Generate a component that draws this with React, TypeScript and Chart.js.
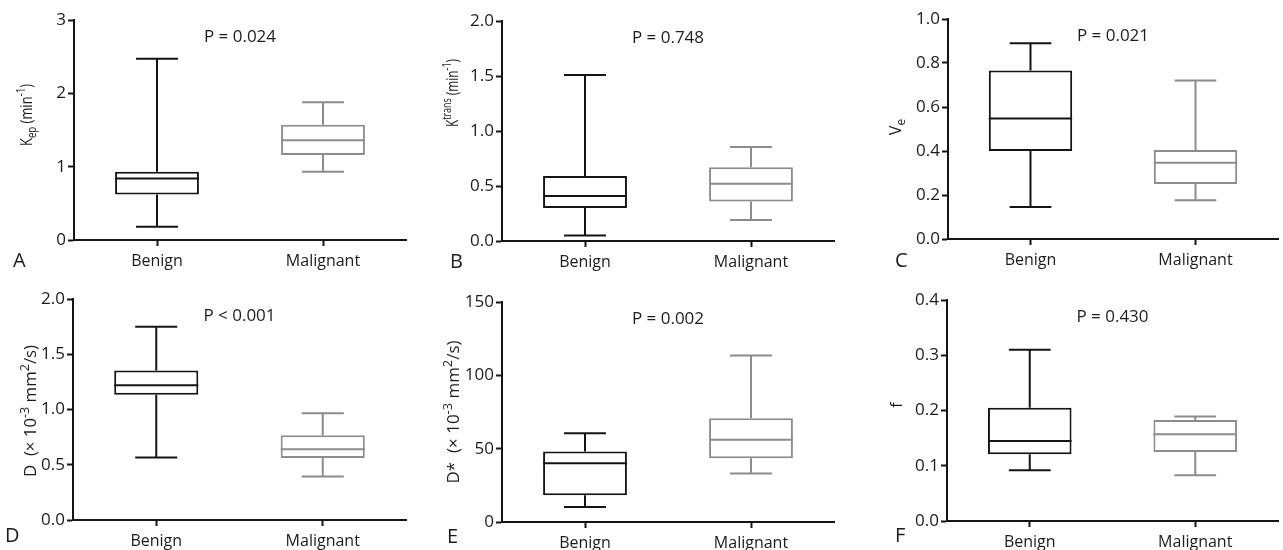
import React, { useEffect, useRef } from "react";
import { Chart, registerables } from "chart.js";

Chart.register(...registerables);

// ---------------- DATA ----------------
const categories = ["Benign", "Malignant"];

// each box: [min, Q1, median, Q3, max]
const kepBenign = [0.18, 0.62, 0.84, 0.93, 2.47];
const kepMalignant = [0.93, 1.16, 1.36, 1.57, 1.88];
const ktransBenign = [0.05, 0.3, 0.41, 0.59, 1.51];
const ktransMalignant = [0.19, 0.36, 0.52, 0.67, 0.855];
const veBenign = [0.145, 0.4, 0.548, 0.766, 0.89];
const veMalignant = [0.176, 0.25, 0.347, 0.405, 0.72];
const dBenign = [0.565, 1.133, 1.22, 1.353, 1.75];
const dMalignant = [0.393, 0.562, 0.64, 0.767, 0.967];
const dStarBenign = [10.2, 18.2, 40.1, 48, 60.5];
const dStarMalignant = [33, 43.5, 56, 70.7, 113.5];
const fBenign = [0.092, 0.121, 0.145, 0.205, 0.31];
const fMalignant = [0.083, 0.125, 0.157, 0.183, 0.189];

const pValues = ["P = 0.024", "P = 0.748", "P = 0.021", "P < 0.001", "P = 0.002", "P = 0.430"];
const panelLetters = ["A", "B", "C", "D", "E", "F"];

const kepTicks = ["0", "1", "2", "3"];
const ktransTicks = ["0.0", "0.5", "1.0", "1.5", "2.0"];
const veTicks = ["0.0", "0.2", "0.4", "0.6", "0.8", "1.0"];
const dTicks = ["0.0", "0.5", "1.0", "1.5", "2.0"];
const dStarTicks = ["0", "50", "100", "150"];
const fTicks = ["0.0", "0.1", "0.2", "0.3", "0.4"];

const yMaxes = [3, 2, 1, 2, 150, 0.4];
const ySteps = [1, 0.5, 0.2, 0.5, 50, 0.1];

type Seg = [string, "n" | "sub" | "sup"];
const yTitles: Seg[][] = [
  [["K", "n"], ["ep", "sub"], [" (min", "n"], ["-1", "sup"], [")", "n"]],
  [["K", "n"], ["trans", "sup"], [" (min", "n"], ["-1", "sup"], [")", "n"]],
  [["V", "n"], ["e", "sub"]],
  [["D  (× 10", "n"], ["-3", "sup"], [" mm", "n"], ["2", "sup"], ["/s)", "n"]],
  [["D*  (× 10", "n"], ["-3", "sup"], [" mm", "n"], ["2", "sup"], ["/s)", "n"]],
  [["f", "n"]],
];

// ---------------- LAYOUT / STYLE ----------------
const BLACK = "#141414";
const GREY = "#8c8c8c";
const TEXT = "#1c1c1c";
const FONT = "'Open Sans', 'DejaVu Sans', sans-serif";

interface Layout {
  x: number; y: number; w: number; h: number;
  left: number; top: number; right: number; bottom: number;
  letterX: number; letterY: number;
  titleX: number; titleY: number; titleLen: number;
}

const layouts: Layout[] = [
  { x: 0, y: 0, w: 420, h: 275, left: 74, top: 20, right: 406, bottom: 240, letterX: 13, letterY: 267, titleX: 32, titleY: 115, titleLen: 62 },
  { x: 420, y: 0, w: 430, h: 275, left: 82, top: 21, right: 414, bottom: 241, letterX: 30, letterY: 268, titleX: 38, titleY: 93, titleLen: 68 },
  { x: 850, y: 0, w: 433, h: 275, left: 98, top: 19, right: 428, bottom: 239, letterX: 45, letterY: 267, titleX: 51, titleY: 127, titleLen: 0 },
  { x: 0, y: 275, w: 420, h: 275, left: 73, top: 24, right: 406, bottom: 245, letterX: 5, letterY: 267, titleX: 36, titleY: 136, titleLen: 132 },
  { x: 420, y: 275, w: 430, h: 275, left: 82, top: 27, right: 414, bottom: 247, letterX: 27, letterY: 268, titleX: 39, titleY: 137, titleLen: 143 },
  { x: 850, y: 275, w: 433, h: 275, left: 97, top: 25, right: 428, bottom: 246, letterX: 45, letterY: 267, titleX: 52, titleY: 130, titleLen: 0 },
];

const panelBoxes = [
  [kepBenign, kepMalignant],
  [ktransBenign, ktransMalignant],
  [veBenign, veMalignant],
  [dBenign, dMalignant],
  [dStarBenign, dStarMalignant],
  [fBenign, fMalignant],
];
const panelTicks = [kepTicks, ktransTicks, veTicks, dTicks, dStarTicks, fTicks];

function drawRichTitle(ctx: CanvasRenderingContext2D, segs: Seg[], bx: number, cy: number, len: number) {
  const fs = 16;
  const small = Math.round(fs * 0.72);
  const fontFor = (k: string) => `${k === "n" ? fs : small}px ${FONT}`;
  let total = 0;
  for (const [t, k] of segs) {
    ctx.font = fontFor(k);
    total += ctx.measureText(t).width;
  }
  ctx.save();
  ctx.translate(bx, cy);
  ctx.rotate(-Math.PI / 2);
  const sc = len > 0 ? len / total : 1;
  ctx.scale(sc, 1);
  ctx.fillStyle = TEXT;
  ctx.textBaseline = "alphabetic";
  ctx.textAlign = "left";
  let xPos = -total / 2;
  for (const [t, k] of segs) {
    ctx.font = fontFor(k);
    const dy = k === "sup" ? -fs * 0.42 : k === "sub" ? fs * 0.25 : 0;
    ctx.fillText(t, xPos, dy);
    xPos += ctx.measureText(t).width;
  }
  ctx.restore();
}

function makePlugin(idx: number) {
  return {
    id: "boxplot" + idx,
    afterDatasetsDraw(chart: any) {
      const ctx: CanvasRenderingContext2D = chart.ctx;
      const xs = chart.scales.x;
      const ys = chart.scales.y;
      const meta = chart.getDatasetMeta(0);
      const boxes = panelBoxes[idx];
      ctx.save();
      boxes.forEach((b, i) => {
        const color = i === 0 ? BLACK : GREY;
        const cx = xs.getPixelForValue(i);
        const bw = meta.data[i].width;
        const capW = bw / 2;
        const pMin = ys.getPixelForValue(b[0]);
        const pQ1 = ys.getPixelForValue(b[1]);
        const pMed = ys.getPixelForValue(b[2]);
        const pQ3 = ys.getPixelForValue(b[3]);
        const pMax = ys.getPixelForValue(b[4]);
        ctx.strokeStyle = color;
        ctx.lineWidth = 2;
        ctx.lineCap = "butt";
        ctx.beginPath();
        ctx.moveTo(cx, pQ3);
        ctx.lineTo(cx, pMax);
        ctx.moveTo(cx, pQ1);
        ctx.lineTo(cx, pMin);
        ctx.moveTo(cx - capW / 2, pMax);
        ctx.lineTo(cx + capW / 2, pMax);
        ctx.moveTo(cx - capW / 2, pMin);
        ctx.lineTo(cx + capW / 2, pMin);
        ctx.moveTo(cx - bw / 2, pMed);
        ctx.lineTo(cx + bw / 2, pMed);
        ctx.stroke();
      });
      ctx.restore();
    },
    afterDraw(chart: any) {
      const ctx: CanvasRenderingContext2D = chart.ctx;
      const xs = chart.scales.x;
      const L = layouts[idx];
      ctx.save();
      ctx.fillStyle = TEXT;
      ctx.font = `17px ${FONT}`;
      ctx.textAlign = "center";
      ctx.textBaseline = "middle";
      const midX = (xs.getPixelForValue(0) + xs.getPixelForValue(1)) / 2;
      ctx.fillText(pValues[idx], midX, chart.chartArea.top + 17);
      ctx.font = `20px ${FONT}`;
      ctx.textAlign = "left";
      ctx.textBaseline = "alphabetic";
      ctx.fillText(panelLetters[idx], L.letterX, L.letterY);
      ctx.restore();
      drawRichTitle(ctx, yTitles[idx], L.titleX, L.titleY, L.titleLen);
    },
  };
}

function Panel({ idx }: { idx: number }) {
  const ref = useRef<HTMLCanvasElement>(null);
  const L = layouts[idx];
  useEffect(() => {
    const boxes = panelBoxes[idx];
    const ticks = panelTicks[idx];
    const chart = new Chart(ref.current as HTMLCanvasElement, {
      type: "bar",
      data: {
        labels: categories,
        datasets: [
          {
            data: boxes.map((b) => [b[1], b[3]]) as any,
            backgroundColor: "#ffffff",
            borderColor: [BLACK, GREY],
            borderWidth: 2,
            borderSkipped: false,
            barPercentage: 0.505,
            categoryPercentage: 1,
          },
        ],
      },
      options: {
        animation: false,
        responsive: false,
        maintainAspectRatio: false,
        layout: { padding: { top: L.top, right: L.w - L.right, left: 0, bottom: 0 } },
        plugins: { legend: { display: false }, tooltip: { enabled: false } },
        scales: {
          x: {
            grid: { offset: false, drawOnChartArea: false, drawTicks: true, tickLength: 6, tickWidth: 2, tickColor: BLACK },
            border: { color: BLACK, width: 2 },
            ticks: { color: TEXT, font: { size: 16, family: FONT }, padding: 6, maxRotation: 0 },
            afterFit: (s: any) => {
              s.height = L.h - L.bottom;
            },
          },
          y: {
            min: 0,
            max: yMaxes[idx],
            grid: { drawOnChartArea: false, drawTicks: true, tickLength: 6, tickWidth: 2, tickColor: BLACK },
            border: { color: BLACK, width: 2 },
            ticks: {
              stepSize: ySteps[idx],
              color: TEXT,
              font: { size: 17, family: FONT },
              padding: 2,
              callback: (v: any, i: number) => ticks[i] ?? String(v),
            },
            afterFit: (s: any) => {
              s.width = L.left;
            },
          },
        },
      } as any,
      plugins: [makePlugin(idx)],
    });
    return () => chart.destroy();
  }, [idx]);
  return (
    <canvas
      ref={ref}
      width={L.w}
      height={L.h}
      style={{ position: "absolute", left: L.x, top: L.y, width: L.w, height: L.h, display: "block" }}
    />
  );
}

export default function App() {
  useEffect(() => {
    document.body.style.margin = "0";
    document.body.style.overflow = "hidden";
  }, []);
  return (
    <div style={{ position: "absolute", left: 0, top: 0, width: 1283, height: 550, background: "#fff", overflow: "hidden" }}>
      {layouts.map((_, i) => (
        <Panel key={i} idx={i} />
      ))}
    </div>
  );
}
